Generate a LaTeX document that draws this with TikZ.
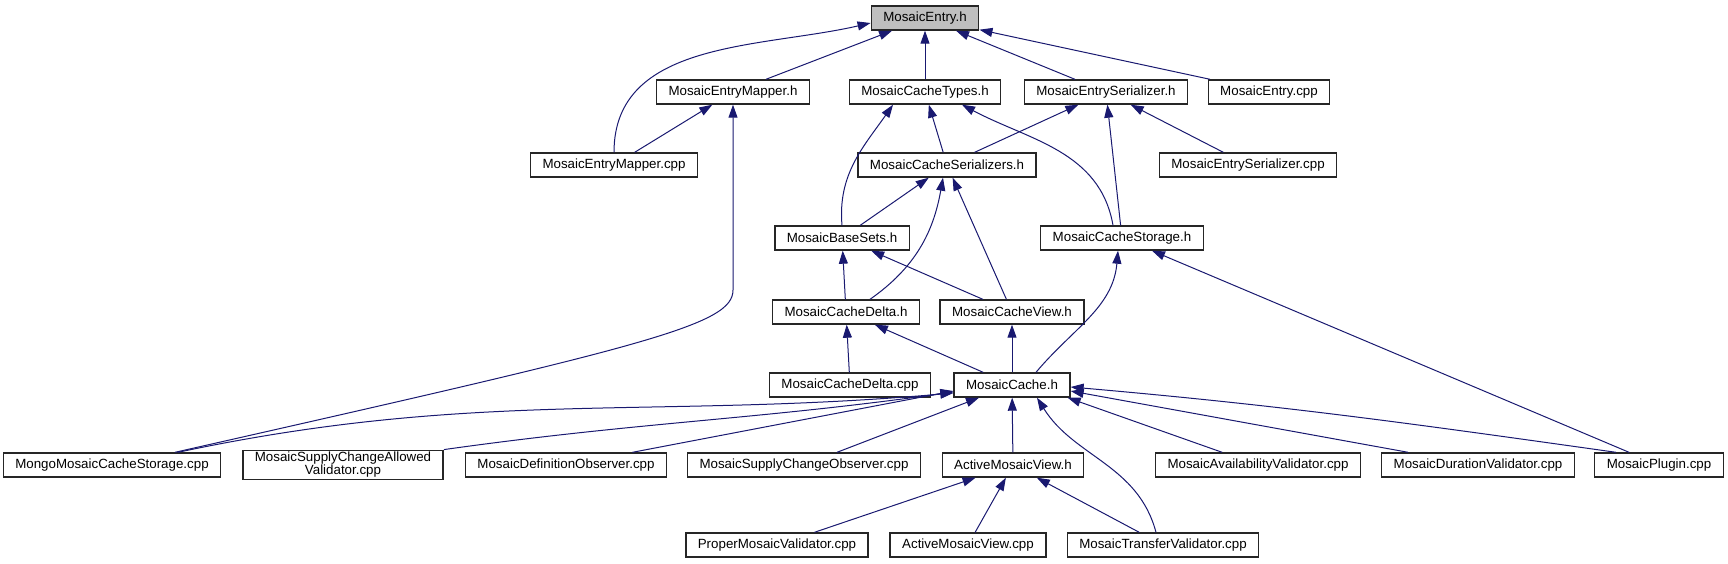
\documentclass[tikz,border=0pt]{standalone}
\usepackage{fontspec}
\setmainfont{Liberation Sans}
\providecommand{\DXfont}{\fontsize{13.33}{13}\selectfont}
\providecommand{\Yentry}{-18}
\providecommand{\Yone}{-92}
\providecommand{\Ytwo}{-165}
\providecommand{\Ythree}{-238}
\providecommand{\Yfour}{-312}
\providecommand{\Yfive}{-385}
\providecommand{\Ysix}{-465}
\providecommand{\Yseven}{-545}
\usetikzlibrary{arrows.meta}
\definecolor{edgeblue}{HTML}{191970}
\tikzset{
  filebox/.style={rectangle, draw=black!85, line width=1.4pt, fill=white,
                  align=center, inner xsep=12pt, inner ysep=2pt,
                  minimum height=24pt, font=\DXfont},
  rootbox/.style={filebox, fill=black!25},
  edge/.style={draw=edgeblue, line width=1pt,
               -{Triangle[length=13pt,width=9pt]}}
}

\begin{document}
\begin{tikzpicture}[x=1pt, y=1pt]

\useasboundingbox (0,0) rectangle (1728,-563);

\node (entry) [rootbox] at (925,\Yentry) {MosaicEntry.h};

\node (mapperh) [filebox] at (733,\Yone) {MosaicEntryMapper.h};
\node (types) [filebox] at (925,\Yone) {MosaicCacheTypes.h};
\node (serh) [filebox] at (1106,\Yone) {MosaicEntrySerializer.h};
\node (entrycpp) [filebox] at (1269,\Yone) {MosaicEntry.cpp};

\node (mappercpp) [filebox] at (614,\Ytwo) {MosaicEntryMapper.cpp};
\node (serializers) [filebox] at (947,\Ytwo) {MosaicCacheSerializers.h};
\node (sercpp) [filebox] at (1248,\Ytwo) {MosaicEntrySerializer.cpp};

\node (basesets) [filebox] at (842,\Ythree) {MosaicBaseSets.h};
\node (storage) [filebox] at (1122,\Ythree) {MosaicCacheStorage.h};

\node (deltah) [filebox] at (846,\Yfour) {MosaicCacheDelta.h};
\node (view) [filebox] at (1012,\Yfour) {MosaicCacheView.h};

\node (deltacpp) [filebox] at (850,\Yfive) {MosaicCacheDelta.cpp};
\node (cache) [filebox] at (1012,\Yfive) {MosaicCache.h};

\node (mongo) [filebox] at (112,\Ysix) {MongoMosaicCacheStorage.cpp};
\node (allowed) [filebox] at (343,\Ysix)
    {MosaicSupplyChangeAllowed\\Validator.cpp};
\node (defobs) [filebox] at (566,\Ysix) {MosaicDefinitionObserver.cpp};
\node (supobs) [filebox] at (804,\Ysix) {MosaicSupplyChangeObserver.cpp};
\node (activeh) [filebox] at (1013,\Ysix) {ActiveMosaicView.h};
\node (avail) [filebox] at (1258,\Ysix) {MosaicAvailabilityValidator.cpp};
\node (duration) [filebox] at (1478,\Ysix) {MosaicDurationValidator.cpp};
\node (plugin) [filebox] at (1659,\Ysix) {MosaicPlugin.cpp};

\node (proper) [filebox] at (777,\Yseven) {ProperMosaicValidator.cpp};
\node (activecpp) [filebox] at (968,\Yseven) {ActiveMosaicView.cpp};
\node (transfer) [filebox] at (1163,\Yseven) {MosaicTransferValidator.cpp};

% Level 1 -> MosaicEntry.h
\draw[edge] (mappercpp.north) to[out=90,in=193] ([yshift=-5]entry.west);
\draw[edge] (mapperh) -- (entry);
\draw[edge] (types) -- (entry);
\draw[edge] (serh) -- (entry);
\draw[edge] (entrycpp) -- (entry);

% Level 2 -> level 1
\draw[edge] (mappercpp) -- (mapperh);
\draw[edge] ([xshift=63]mongo.north)
    .. controls (650,-345) and (733,-325) .. (733,-290)
    -- (mapperh.south);
\draw[edge] (basesets.north) to[out=95,in=-125] ([xshift=-32]types.south);
\draw[edge] (serializers) -- (types);
\draw[edge] ([xshift=-9]storage.north) to[out=100,in=-28] ([xshift=37]types.south);
\draw[edge] (serializers) -- (serh);
\draw[edge] (storage) -- (serh);
\draw[edge] (sercpp) -- (serh);

% Serializers and sets
\draw[edge] (basesets) -- (serializers);
\draw[edge] ([xshift=24]deltah.north) to[out=35,in=-100] ([xshift=-4]serializers.south);
\draw[edge] (view) -- (serializers);
\draw[edge] (deltah) -- (basesets);
\draw[edge] (view) -- (basesets);

% Storage, delta, view
\draw[edge] ([xshift=24]cache.north) to[out=50,in=-95] ([xshift=-4]storage.south);
\draw[edge] (plugin) -- (storage);
\draw[edge] (deltacpp) -- (deltah);
\draw[edge] (cache) -- (deltah);
\draw[edge] (cache) -- (view);

% Sources -> MosaicCache.h
\draw[edge] ([xshift=66]mongo.north) to[out=12,in=-175] ([yshift=-8]cache.west);
\draw[edge] (allowed.north east) to[out=8,in=-172] ([yshift=-7]cache.west);
\draw[edge] (defobs) -- ([yshift=-6]cache.west);
\draw[edge] (supobs) -- (cache);
\draw[edge] (activeh) -- (cache);
\draw[edge] ([xshift=-7]transfer.north) to[out=105,in=-58] ([xshift=25]cache.south);
\draw[edge] (avail) -- ([xshift=-3]cache.south east);
\draw[edge] (duration) -- ([yshift=-6]cache.east);
\draw[edge] ([xshift=-43]plugin.north) to[out=172,in=-5] ([yshift=-2]cache.east);

% ActiveMosaicView.h
\draw[edge] (proper) -- (activeh);
\draw[edge] (activecpp) -- (activeh);
\draw[edge] (transfer) -- (activeh);

\end{tikzpicture}
\end{document}
